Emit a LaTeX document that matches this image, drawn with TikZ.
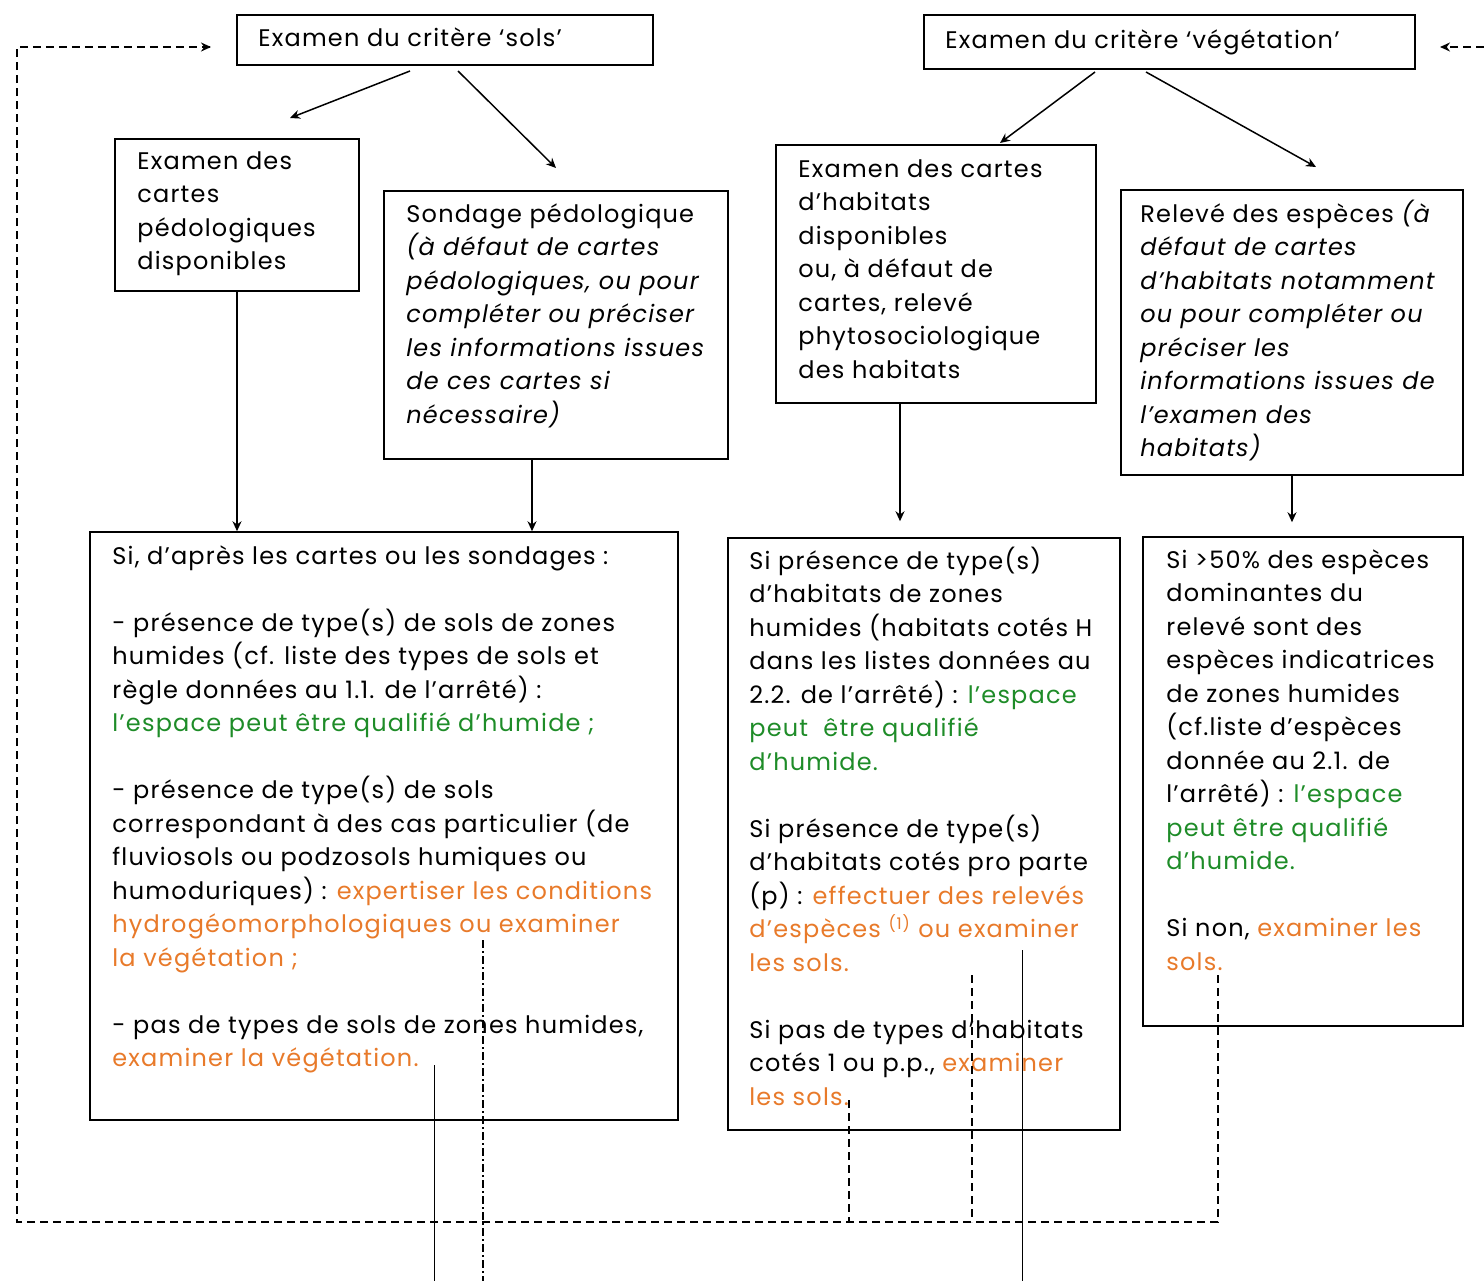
\documentclass[tikz,border=0pt]{standalone}
\usepackage{fontspec}
\setmainfont{Poppins}[LetterSpace=5]
\usetikzlibrary{arrows.meta,fit,calc}
\definecolor{grn}{RGB}{30,140,40}
\definecolor{org}{RGB}{232,122,42}
\newcommand\fl{\rule{0pt}{12pt}}
\newcommand\gr[1]{\textcolor{grn}{#1}}
\newcommand\og[1]{\textcolor{org}{#1}}
\begin{document}
\begin{tikzpicture}[x=0.5pt,y=-0.5pt,
  box/.style={draw, line width=0.75pt, inner sep=0pt},
  txt/.style={anchor=north west, inner sep=0pt, align=left, font=\fontsize{12pt}{16.75pt}\selectfont},
  arr/.style={line width=0.75pt, -{Stealth[length=5pt,width=4.5pt]}},
  loopline/.style={line width=0.8pt, dash pattern=on 4pt off 2.5pt},
  thin/.style={line width=0.5pt},
  dashdot/.style={line width=0.8pt, dash pattern=on 4pt off 1.5pt on 1pt off 1.5pt}]
\useasboundingbox (0,0) rectangle (1484,1281);

% boxes
\node[box, fit={(237,15)(653,65)}] (sols) {};
\node[box, fit={(924,15)(1415,69)}] (veg) {};
\node[box, fit={(115,139)(359,291)}] (pedo) {};
\node[box, fit={(384,191)(728,459)}] (sond) {};
\node[box, fit={(776,145)(1096,403)}] (hab) {};
\node[box, fit={(1121,190)(1463,475)}] (rel) {};
\node[box, fit={(90,532)(678,1120)}] (big) {};
\node[box, fit={(728,538)(1120,1130)}] (mid) {};
\node[box, fit={(1143,537)(1463,1026)}] (rgt) {};

% texts
\node[txt] (tsols) at (258,22) {\fl Examen du critère ‘sols’};
\node[txt] (tveg) at (945,24) {\fl Examen du critère ‘végétation’};
\node[txt] (tpedo) at (137,145) {\fl Examen des\\cartes\\pédologiques\\disponibles};
\node[txt] (tsond) at (406,198) {\fl Sondage pédologique\\\textit{(à défaut de cartes}\\\textit{pédologiques, ou pour}\\\textit{compléter ou préciser}\\\textit{les informations issues}\\\textit{de ces cartes si}\\\textit{nécessaire)}};
\node[txt] (thab) at (798,153) {\fl Examen des cartes\\d’habitats\\disponibles\\ou, à défaut de\\cartes, relevé\\phytosociologique\\des habitats};
\node[txt] (trel) at (1140,198) {\fl Relevé des espèces \textit{(à}\\\textit{défaut de cartes}\\\textit{d’habitats notamment}\\\textit{ou pour compléter ou}\\\textit{préciser les}\\\textit{informations issues de}\\\textit{l’examen des}\\\textit{habitats)}};
\node[txt] (tbig) at (112,540) {\fl Si, d’après les cartes ou les sondages :\\[16.75pt]
- présence de type(s) de sols de zones\\
humides (cf. liste des types de sols et\\
règle données au 1.1. de l’arrêté) :\\
\gr{l’espace peut être qualifié d’humide ;}\\[16.75pt]
- présence de type(s) de sols\\
correspondant à des cas particulier (de\\
fluviosols ou podzosols humiques ou\\
humoduriques) : \og{ expertiser les conditions}\\
\og{hydrogéomorphologiques ou examiner}\\
\og{la végétation ;}\\[16.75pt]
- pas de types de sols de zones humides,\\
\og{examiner la végétation.}};
\node[txt] (tmid) at (749,545) {\fl Si présence de type(s)\\
d’habitats de zones\\
humides (habitats cotés H\\
dans les listes données au\\
2.2. de l’arrêté) : \gr{l’espace}\\
\gr{peut \ être qualifié}\\
\gr{d’humide.}\\[16.75pt]
Si présence de type(s)\\
d’habitats cotés pro parte\\
(p) : \og{effectuer des relevés}\\
\og{d’espèces \textsuperscript{(1)} ou examiner}\\
\og{les sols.}\\[16.75pt]
Si pas de types d’habitats\\
cotés 1 ou p.p., \og{examiner}\\
\og{les sols.}};
\node[txt] (trgt) at (1166,544) {\fl Si >50\% des espèces\\
dominantes du\\
relevé sont des\\
espèces indicatrices\\
de zones humides\\
(cf.liste d’espèces\\
donnée au 2.1. de\\
l’arrêté) : \gr{l’espace}\\
\gr{peut être qualifié}\\
\gr{d’humide.}\\[16.75pt]
Si non, \og{examiner les}\\
\og{sols.}};

% arrow end coordinates
\coordinate (a1s) at (410,71);  \coordinate (a1e) at (290,118);
\coordinate (a2s) at (458,71);  \coordinate (a2e) at (556,168);
\coordinate (a3s) at (1095,72); \coordinate (a3e) at (1000,143);
\coordinate (a4s) at (1146,72); \coordinate (a4e) at (1316,167);
\draw[arr] (a1s) -- (a1e);
\draw[arr] (a2s) -- (a2e);
\draw[arr] (a3s) -- (a3e);
\draw[arr] (a4s) -- (a4e);

% vertical arrows
\draw[arr] (pedo.south) -- (pedo.south |- big.north);
\draw[arr] (sond.south -| 532,0) -- (big.north -| 532,0);
\draw[arr] (hab.south -| 900,0) -- ([yshift=8pt]mid.north -| 900,0);
\draw[arr] (rel.south -| 1292,0) -- ([yshift=7pt]rgt.north -| 1292,0);

% dashed loop
\coordinate (d1) at (1218,975);
\coordinate (d2) at (849,1100);
\coordinate (d3) at (972,975);
\coordinate (lb) at (17,1222);
\coordinate (lr) at (1218,1222);
\coordinate (lt) at (17,47);
\coordinate (lend) at (212,47);
\draw[loopline] (d1) -- (lr) -- (lb) -- (lt) -- (lend);
\draw[loopline, -{Stealth[length=5pt,width=4.5pt]}] ([xshift=-1pt]lend) -- ++(1,0);
\draw[loopline] (d2) -- (d2 |- lb);
\draw[loopline] (d3) -- (d3 |- lb);
\coordinate (rs) at (1484,47);
\coordinate (re) at (1440,47);
\draw[loopline, -{Stealth[length=5pt,width=4.5pt]}] (rs) -- (re);

% lines leaving downwards
\coordinate (s1) at (434,1065); \coordinate (s1b) at (434,1281);
\coordinate (s2) at (1022,950); \coordinate (s2b) at (1022,1281);
\coordinate (s3) at (483,940);  \coordinate (s3b) at (483,1281);
\draw[thin] (s1) -- (s1b);
\draw[thin] (s2) -- (s2b);
\draw[dashdot] (s3) -- (s3b);
\end{tikzpicture}
\end{document}
